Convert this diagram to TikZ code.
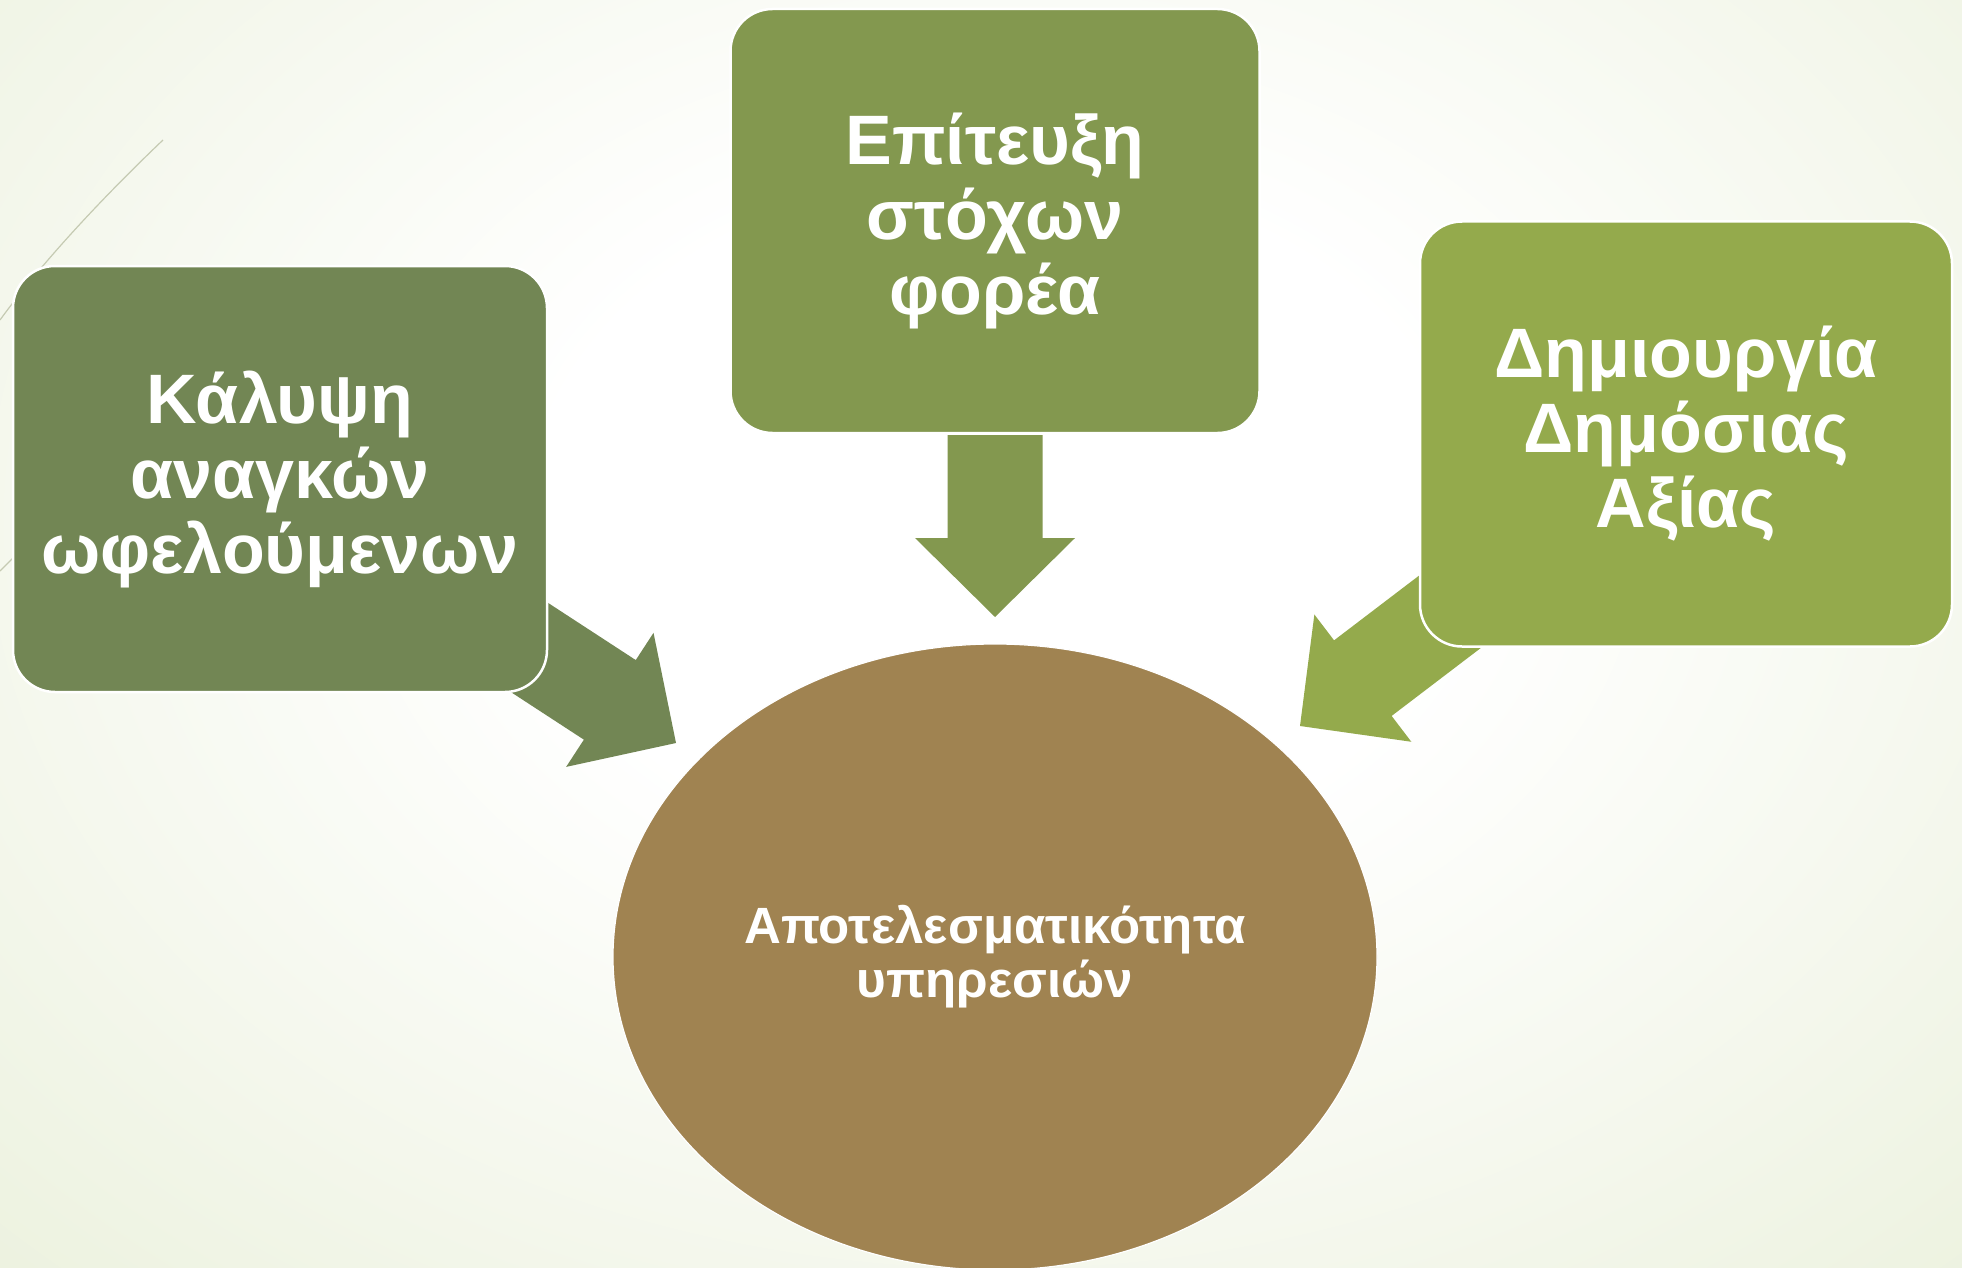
\documentclass[tikz,border=0pt]{standalone}
\usepackage{fontspec}
\setmainfont{Liberation Sans}
\usepackage{xcolor}
\usetikzlibrary{shapes.geometric}
\usetikzlibrary{positioning}
\usetikzlibrary{calc}

\definecolor{boxLeft}{HTML}{728654}
\definecolor{boxTop}{HTML}{83984F}
\definecolor{boxRight}{HTML}{94AA4C}
\definecolor{ovalBrown}{HTML}{A08351}
\definecolor{bgGreen}{HTML}{DCE6C3}
\definecolor{themeLine}{HTML}{C5CAB2}

\pgfdeclareradialshading{slidebg}{\pgfpoint{0bp}{0bp}}{color(0bp)=(white); color(10bp)=(white); color(50bp)=(bgGreen)}

% block arrow: tip, angle, length, colour
\newcommand{\blockarrow}[4]{%
	\begin{scope}[shift={(#1)},rotate=#2]
		\fill[#4] (0,0) -- (-79,80) -- (-79,47.5) -- (-#3,47.5) -- (-#3,-47.5) -- (-79,-47.5) -- (-79,-80) -- cycle ;
	\end{scope}}

\tikzset{
	greenbox/.style={rounded corners=42pt, draw=white, line width=2.5pt, text=white, align=center,
		font=\fontsize{70}{75}\selectfont\bfseries, minimum width=532, minimum height=425},
}

\begin{document}
\begin{tikzpicture}[x=1pt,y=1pt,yscale=-1,xscale=1]
		\useasboundingbox (0,0) rectangle (1962,1268);
		
		%Background
		\begin{scope}
			\clip (0,0) rectangle (1962,1268);
			\shade[shading=slidebg] (-150,-330) rectangle (2150,1370);
		\end{scope}
		
		%Theme lines
		\draw[themeLine, line width=1.2pt] (163,140) .. controls (100,200) and (40,265) .. (0,320) ;
		\draw[themeLine, line width=1.2pt] (0,571) -- (14,557) ;
		
		%Ellipse
		\node[ellipse, fill=ovalBrown, draw=white, line width=1.2pt, minimum width=764, minimum height=626] (effect) at (995,957) {};
		\node[text=white, align=center, font=\fontsize{51}{54}\selectfont\bfseries] (effectText) at (effect.center) {Αποτελεσματικότητα\\υπηρεσιών};
		
		%Block arrows
		\blockarrow{995,617}{90}{182}{boxTop}
		\blockarrow{676,743}{33.1}{250}{boxLeft}
		\blockarrow{1300,726}{142.7}{250}{boxRight}
		
		%Boxes
		\node[greenbox, fill=boxLeft, minimum width=534, minimum height=426] (needs) at (280,479) {Κάλυψη\\αναγκών\\ωφελούμενων};
		\node[greenbox, fill=boxTop, minimum width=529, minimum height=424] (goals) at (995,221) {Επίτευξη\\στόχων\\φορέα};
		\node[greenbox, fill=boxRight] (value) at (1686,434) {Δημιουργία\\Δημόσιας\\Αξίας};
		
	\end{tikzpicture}
\end{document}
